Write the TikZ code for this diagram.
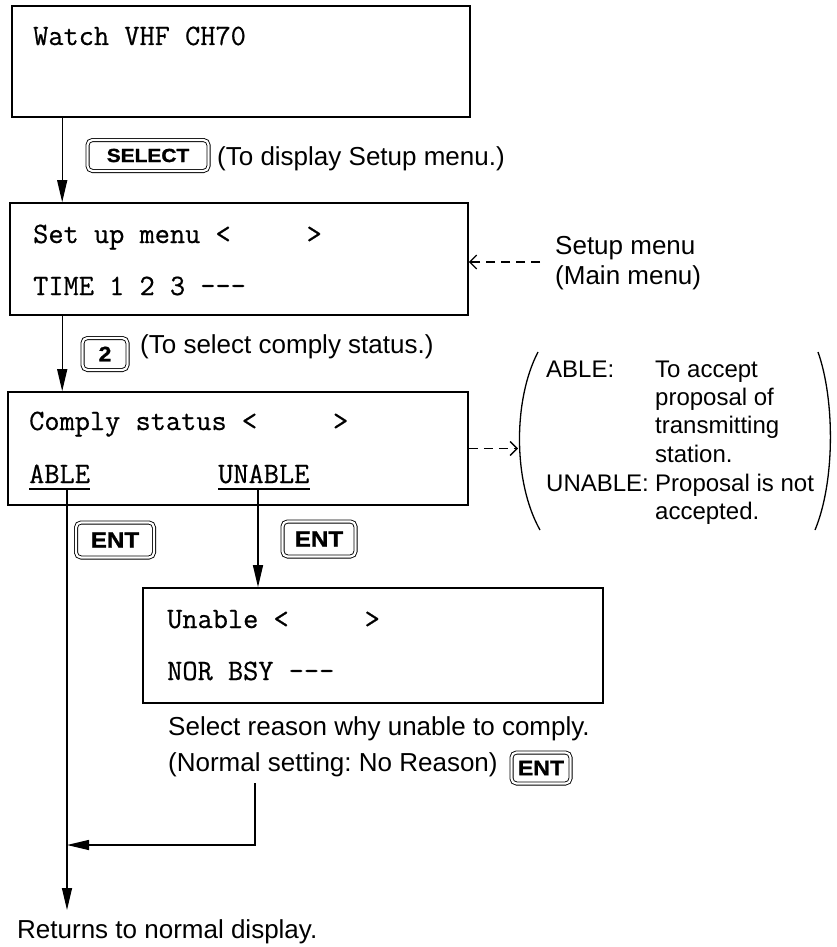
\documentclass[tikz,border=0pt]{standalone}
\usepackage{fontspec}
\setmainfont{Liberation Sans}
\setmonofont{Latin Modern Mono}[FakeBold=0.6]
\newfontfamily\keyfont[BoldFeatures={FakeStretch=1.1,FakeBold=1.2}]{Liberation Sans}
\usetikzlibrary{arrows.meta,calc}
\begin{document}
\frenchspacing
\begin{tikzpicture}[x=1pt,y=-1pt,
 lcd/.style={draw,line width=1.6pt,inner sep=0},
 mono/.style={font=\ttfamily\fontsize{29.5}{32}\selectfont,inner sep=0,anchor=base west},
 txt/.style={font=\fontsize{26}{30}\selectfont,inner sep=0,anchor=base west},
 ptxt/.style={font=\fontsize{24}{28}\selectfont,inner sep=0,anchor=base west},
 keybox/.style={draw,line width=0.9pt,double distance=2.2pt,rounded corners=5pt,inner sep=0,font=\keyfont\bfseries\fontsize{19}{22}\selectfont},
 arr/.style={line width=1.3pt,-{Triangle[length=22pt,width=10pt]}},
 darr/.style={line width=1.3pt,dash pattern=on 9pt off 6pt,-{Straight Barb[length=7pt,width=14pt]}},
 paren/.style={line width=1.3pt},
]
\useasboundingbox (0,0) rectangle (837,947);

% display boxes
\node[lcd,minimum width=458pt,minimum height=111pt] (b1) at (241,61.5) {};
\node[lcd,minimum width=458pt,minimum height=112pt] (b2) at (239,259) {};
\node[lcd,minimum width=460pt,minimum height=113pt] (b3) at (238,448.5) {};
\node[lcd,minimum width=460pt,minimum height=115pt] (b4) at (373,645.5) {};

% display texts
\node[mono] (t1) at (33,45) {Watch VHF CH70};
\node[mono] (t2a) at (33,243) {Set up menu <~~~~~>};
\node[mono] (t2b) at (33,295) {TIME 1 2 3 ---};
\node[mono] (t3a) at (29,430) {Comply status <~~~~~>};
\node[mono] (able) at (29,483) {ABLE};
\node[mono] (unable) at (218,483) {UNABLE};
\node[mono] (t4a) at (167,628) {Unable <~~~~~>};
\node[mono] (t4b) at (167,680) {NOR BSY ---};
\draw[line width=1.1pt] ([yshift=-6pt]able.base west) -- ([yshift=-6pt]able.base east);
\draw[line width=1.1pt] ([yshift=-6pt]unable.base west) -- ([yshift=-6pt]unable.base east);

% keys
\node[keybox,minimum width=121pt,minimum height=31pt] (ksel) at (148,155.5) {SELECT};
\node[keybox,minimum width=45pt,minimum height=32pt,font=\keyfont\bfseries\fontsize{21}{22}\selectfont] (k2) at (105,354) {2};
\node[keybox,minimum width=78pt,minimum height=35pt,font=\keyfont\bfseries\fontsize{22}{24}\selectfont] (ent1) at (115,540) {ENT};
\node[keybox,minimum width=73pt,minimum height=35pt,font=\keyfont\bfseries\fontsize{22}{24}\selectfont] (ent2) at (319,539) {ENT};
\node[keybox,minimum width=59pt,minimum height=31pt,font=\keyfont\bfseries\fontsize{21}{22}\selectfont] (ent3) at (541,768) {ENT};

% sans texts
\node[txt] (s1) at (217,165) {(To display Setup menu.)};
\node[txt] (sm1) at (555,254) {Setup menu};
\node[txt] (sm2) at (555,284) {(Main menu)};
\node[txt] (s2) at (140,353) {(To select comply status.)};
\node[txt] (s3) at (168,735) {Select reason why unable to comply.};
\node[txt] (s4) at (168,771) {(Normal setting: No Reason)};
\node[txt] (ret) at (17,938) {Returns to normal display.};

% parenthesised explanation
\node[ptxt] (p1) at (546,377) {ABLE:};
\node[ptxt] (p2) at (655,377) {To accept};
\node[ptxt] (p3) at (655,405) {proposal of};
\node[ptxt] (p4) at (655,433) {transmitting};
\node[ptxt] (p5) at (655,462) {station.};
\node[ptxt] (p6) at (546,491) {UNABLE:};
\node[ptxt] (p7) at (655,491) {Proposal is not};
\node[ptxt] (p8) at (655,519) {accepted.};
\coordinate (lpt) at (538,352);
\coordinate (lpb) at (540,530);
\coordinate (rpt) at (818,352);
\coordinate (rpb) at (815,530);
\draw[paren] (lpt) .. controls (513,400) and (513,482) .. (lpb);
\draw[paren] (rpt) .. controls (835,400) and (835,482) .. (rpb);

% flow arrows
\draw[arr] ([xshift=51pt]b1.south west) -- ([xshift=51pt]b1.south west |- b2.north);
\draw[arr] ([xshift=53pt]b2.south west) -- ([xshift=53pt]b2.south west |- b3.north);
\coordinate (ab1) at ([xshift=38pt,yshift=-6pt]able.base west);
\coordinate (ab2) at (ab1 |- 0,910);
\draw[arr] (ab1) -- (ab2);
\coordinate (un1) at ([xshift=40pt,yshift=-6pt]unable.base west);
\draw[arr] (un1) -- (un1 |- b4.north);
\coordinate (r1) at (255,783);
\coordinate (r2) at (255,845);
\draw[arr] (r1) -- (r2) -- (r2 -| ab1);

% dashed pointers
\coordinate (d1) at (540,262);
\draw[darr] (d1) -- (d1 -| b2.east);
\coordinate (d2) at (b3.east);
\coordinate (d2e) at (518,448.5);
\draw[darr] (d2) -- (d2e);
\end{tikzpicture}
\end{document}
